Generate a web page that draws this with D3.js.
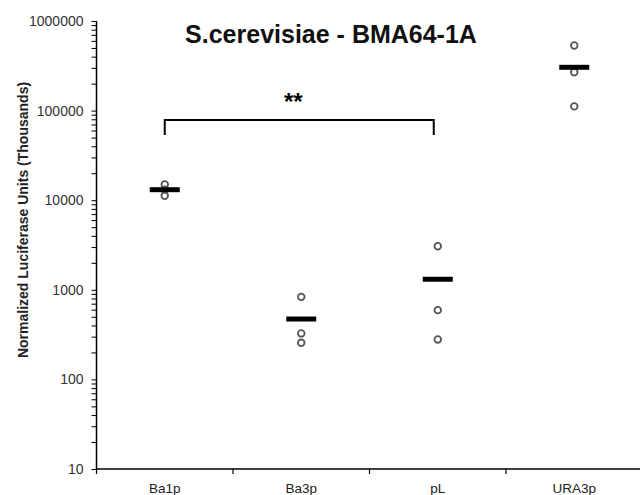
<!DOCTYPE html>
<html>
<head>
<meta charset="utf-8">
<script src="https://cdn.jsdelivr.net/npm/d3@7"></script>
<style>
  body { margin: 0; background: #fff; }
  text { font-family: "Liberation Sans", Arial, sans-serif; }
</style>
</head>
<body>
<svg width="640" height="495"></svg>
<script>
// Data
var categories = ["Ba1p", "Ba3p", "pL", "URA3p"];
var replicates = [
  [15000, 13100, 11200],
  [834, 326, 256],
  [3063, 593, 279],
  [533000, 268500, 111400]
];
var yTicks = [10, 100, 1000, 10000, 100000, 1000000];
var title = "S.cerevisiae - BMA64-1A";
var yLabel = "Normalized Luciferase Units (Thousands)";
var bracket = { from: "Ba1p", to: "pL", label: "**" };

var svg = d3.select("svg");
// the x axis runs off the right edge of the picture in the original
var plotLeft = 96.5, plotRight = 642.5, plotTop = 21, plotBottom = 469;

var y = d3.scaleLog().domain([10, 1000000]).range([plotBottom, plotTop]);
var x = d3.scaleBand().domain(categories).range([plotLeft, plotRight]);
var cx = function(c) { return x(c) + x.bandwidth() / 2; };

// y axis
var yAxis = d3.axisLeft(y)
  .tickValues(d3.range(1, 6).flatMap(function(e) {
    return d3.range(1, 10).map(function(m) { return m * Math.pow(10, e); });
  }).concat([1000000]))
  .tickSize(5)
  .tickFormat(function(d) { return yTicks.indexOf(d) >= 0 ? d : ""; });
var gy = svg.append("g").attr("transform", "translate(" + plotLeft + ",0)").call(yAxis);
gy.select(".domain").attr("stroke", "#000").attr("stroke-width", 1.5).attr("d", "M0," + plotTop + "V" + plotBottom);
gy.selectAll(".tick line").attr("stroke", "#000").attr("stroke-width", 1);
gy.selectAll(".tick text").attr("font-size", 14).attr("fill", "#333").attr("x", -13);

// x axis
var gx = svg.append("g").attr("transform", "translate(0," + plotBottom + ")");
gx.append("line").attr("x1", plotLeft).attr("x2", 640).attr("stroke", "#000").attr("stroke-width", 1.5);
gx.selectAll("line.tk").data(categories).enter().append("line")
  .attr("class", "tk")
  .attr("x1", function(d) { return x(d); })
  .attr("x2", function(d) { return x(d); })
  .attr("y1", 0).attr("y2", 5).attr("stroke", "#000").attr("stroke-width", 1.2);
gx.selectAll("text").data(categories).enter().append("text")
  .attr("x", cx)
  .attr("y", 24)
  .attr("text-anchor", "middle")
  .attr("font-size", 13.5)
  .attr("fill", "#222")
  .text(function(d) { return d; });

// points and mean bars
categories.forEach(function(c, i) {
  var vals = replicates[i];
  var g = svg.append("g");
  g.selectAll("circle").data(vals).enter().append("circle")
    .attr("cx", cx(c))
    .attr("cy", function(d) { return y(d); })
    .attr("r", 3.3)
    .attr("fill", "#fff")
    .attr("stroke", "#555")
    .attr("stroke-width", 1.8);
  g.append("line")
    .attr("x1", cx(c) - 15).attr("x2", cx(c) + 15)
    .attr("y1", y(d3.mean(vals))).attr("y2", y(d3.mean(vals)))
    .attr("stroke", "#000").attr("stroke-width", 5);
});

// significance bracket
var by = 120;
svg.append("path")
  .attr("d", "M" + cx(bracket.from) + ",135V" + by + "H" + (cx(bracket.to) - 4) + "V135")
  .attr("fill", "none").attr("stroke", "#000").attr("stroke-width", 2);
svg.append("text")
  .attr("x", (cx(bracket.from) + cx(bracket.to)) / 2 - 8)
  .attr("y", 110)
  .attr("text-anchor", "middle")
  .attr("font-size", 24).attr("font-weight", "bold")
  .text(bracket.label);

// title
svg.append("text")
  .attr("x", 331).attr("y", 43)
  .attr("text-anchor", "middle")
  .attr("font-size", 25).attr("font-weight", "bold")
  .attr("fill", "#111")
  .text(title);

// y label
svg.append("text")
  .attr("transform", "translate(28,220) rotate(-90)")
  .attr("text-anchor", "middle")
  .attr("font-size", 14).attr("font-weight", "bold")
  .attr("fill", "#222")
  .text(yLabel);
</script>
</body>
</html>
